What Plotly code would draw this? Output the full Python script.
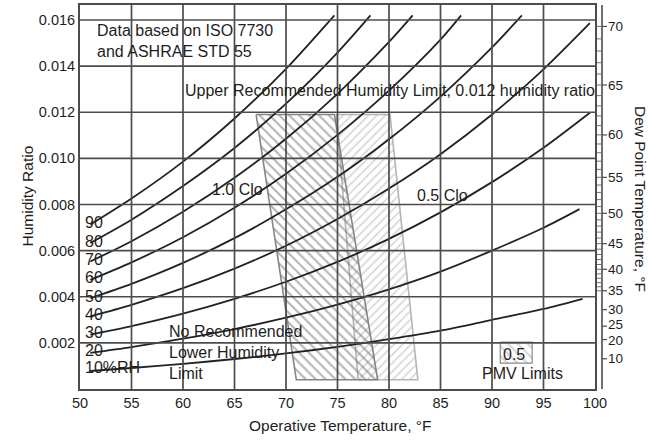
import math
import plotly.graph_objects as go

# ---- relative humidity curves: humidity ratio read along operative temperature (°F) ----
temp_grid = [51, 55, 60, 65, 70, 75, 80, 85, 90, 95]
rh_levels = [10, 20, 30, 40, 50, 60, 70, 80, 90]
rh_end_temp = [98.8, 98.5, 99.5, 99.5, 92.9, 87.0, 82.3, 78.2, 74.7]

rh_10 = [0.00078, 0.00091, 0.00109, 0.00130, 0.00154, 0.00183, 0.00216, 0.00253, 0.00300, 0.00347, 0.00391]
rh_20 = [0.00157, 0.00182, 0.00218, 0.00260, 0.00309, 0.00366, 0.00432, 0.00509, 0.00600, 0.00699, 0.00780]
rh_30 = [0.00236, 0.00273, 0.00327, 0.00391, 0.00465, 0.00551, 0.00651, 0.00766, 0.00897, 0.01046, 0.01198]
rh_40 = [0.00315, 0.00365, 0.00437, 0.00522, 0.00621, 0.00737, 0.00869, 0.01018, 0.01190, 0.01386, 0.01586]
rh_50 = [0.00394, 0.00456, 0.00547, 0.00654, 0.00779, 0.00920, 0.01083, 0.01268, 0.01481, 0.01620]
rh_60 = [0.00473, 0.00549, 0.00658, 0.00786, 0.00933, 0.01102, 0.01294, 0.01515, 0.01620]
rh_70 = [0.00553, 0.00641, 0.00769, 0.00916, 0.01085, 0.01280, 0.01505, 0.01620]
rh_80 = [0.00633, 0.00734, 0.00880, 0.01045, 0.01237, 0.01459, 0.01620]
rh_90 = [0.00713, 0.00826, 0.00986, 0.01173, 0.01388, 0.01620]
rh_curves = [rh_10, rh_20, rh_30, rh_40, rh_50, rh_60, rh_70, rh_80, rh_90]
rh_labels = ["10%RH", "20", "30", "40", "50", "60", "70", "80", "90"]

# ---- comfort zones (corner points: top-left, top-right, bottom-right, bottom-left) ----
clo10_temp = [67.1, 74.7, 78.9, 71.0]
clo10_ratio = [0.0119, 0.0119, 0.0004, 0.0004]
clo05_temp = [74.9, 80.1, 82.8, 77.0]
clo05_ratio = [0.0119, 0.0119, 0.0004, 0.0004]

# ---- axes ----
x_ticks = [50, 55, 60, 65, 70, 75, 80, 85, 90, 95, 100]
y_ticks = [0.002, 0.004, 0.006, 0.008, 0.010, 0.012, 0.014, 0.016]
y_tick_text = ["0.002", "0.004", "0.006", "0.008", "0.010", "0.012", "0.014", "0.016"]
dew_point_labels = [10, 20, 25, 30, 35, 40, 45, 50, 55, 60, 65, 70]
dew_point_minor = list(range(35, 71))

X_MIN, X_MAX = 50, 100
Y_MAX = 0.01665
PAPER_W = 522
X_DOMAIN_END = 515 / PAPER_W


def dew_point_to_ratio(tdp_f):
    """Humidity ratio at sea level for a given dew point (°F), Magnus form."""
    t = (tdp_f - 32) / 1.8
    if t >= 0:
        es = 6.112 * math.exp(17.62 * t / (243.12 + t))
    else:
        es = 6.112 * math.exp(22.46 * t / (272.62 + t))
    return 0.622 * es / (1013.25 - es)


FONT = "Liberation Sans, Arial, sans-serif"
TXT = "#1e1e1e"
GRID = "#4c4c4c"

fig = go.Figure()

# comfort zones with hatching
fig.add_trace(go.Scatter(
    x=clo05_temp + clo05_temp[:1], y=clo05_ratio + clo05_ratio[:1],
    mode="lines", fill="toself", fillcolor="rgba(0,0,0,0)",
    fillpattern=dict(shape="/", fgcolor="#a8a8a8", bgcolor="rgba(0,0,0,0)", size=6, solidity=0.25),
    line=dict(color="#b5b5b5", width=1.6), hoverinfo="skip", showlegend=False,
))
fig.add_trace(go.Scatter(
    x=clo10_temp + clo10_temp[:1], y=clo10_ratio + clo10_ratio[:1],
    mode="lines", fill="toself", fillcolor="rgba(0,0,0,0)",
    fillpattern=dict(shape="\\", fgcolor="#666666", bgcolor="rgba(0,0,0,0)", size=7, solidity=0.28),
    line=dict(color="#858585", width=1.6), hoverinfo="skip", showlegend=False,
))

text_font = dict(family=FONT, size=16, color=TXT)

# relative humidity curves
for level, end_t, ratios, label in zip(rh_levels, rh_end_temp, rh_curves, rh_labels):
    temps = temp_grid[:len(ratios) - 1] + [end_t]
    fig.add_trace(go.Scatter(
        x=temps, y=ratios, mode="lines",
        line=dict(color="#222222", width=1.8, shape="spline", smoothing=0.8),
        name=f"{level}% RH", hoverinfo="skip", showlegend=False,
    ))
    if level == 10:
        fig.add_annotation(x=53.2, y=ratios[0], text=label, showarrow=False, yshift=4, font=text_font)
    else:
        fig.add_annotation(x=51.35, y=ratios[0], text=label, showarrow=False, yshift=2, font=text_font)

# PMV legend key
fig.add_trace(go.Scatter(
    x=[90.8, 93.9, 93.9, 90.8, 90.8], y=[0.00203, 0.00203, 0.00112, 0.00112, 0.00203],
    mode="lines", fill="toself", fillcolor="rgba(0,0,0,0)",
    fillpattern=dict(shape="\\", fgcolor="#a8a8a8", bgcolor="rgba(0,0,0,0)", size=7, solidity=0.3),
    line=dict(color="#8a8a8a", width=1.2), hoverinfo="skip", showlegend=False,
))

# chart grid lines
for xv in x_ticks[1:-1]:
    fig.add_shape(type="line", x0=xv, x1=xv, y0=0, y1=Y_MAX, xref="x", yref="y",
                  line=dict(color=GRID, width=1.7), layer="above")
for yv in y_ticks:
    fig.add_shape(type="line", x0=X_MIN, x1=X_MAX, y0=yv, y1=yv, xref="x", yref="y",
                  line=dict(color=GRID, width=1.7), layer="above")

fig.add_annotation(x=51.5, y=0.01600, text="Data based on ISO 7730<br>and ASHRAE STD 55",
                   showarrow=False, xanchor="left", yanchor="top", align="left", font=text_font)
fig.add_annotation(x=80.1, y=0.01294, text="Upper Recommended Humidity Limit, 0.012 humidity ratio",
                   showarrow=False, font=text_font)
fig.add_annotation(x=65.3, y=0.00867, text="1.0 Clo", showarrow=False, font=text_font)
fig.add_annotation(x=85.2, y=0.00837, text="0.5 Clo", showarrow=False, font=text_font)
fig.add_annotation(x=58.4, y=0.00296, text="No Recommended<br>Lower Humidity<br>Limit",
                   showarrow=False, xanchor="left", yanchor="top", align="left", font=text_font)
fig.add_annotation(x=92.1, y=0.00148, text="0.5", showarrow=False, font=text_font)
fig.add_annotation(x=93.0, y=0.00068, text="PMV Limits", showarrow=False, font=text_font)

# axis titles
title_font = dict(family=FONT, size=15.5, color=TXT)
fig.add_annotation(xref="paper", yref="paper", x=-0.1207, y=0.5026, text="Humidity Ratio",
                   textangle=-90, showarrow=False, font=title_font)
fig.add_annotation(xref="paper", yref="paper", x=1.093, y=0.4948, text="Dew Point Temperature, °F",
                   textangle=90, showarrow=False, font=title_font)
fig.add_annotation(xref="paper", yref="paper", x=0.4993, y=-0.1218, text="Operative Temperature, °F",
                   showarrow=False, font=title_font)

# dew point scale on the right: axis line, minor ticks (inward), major ticks and labels
fig.add_shape(type="line", x0=1.0, x1=1.0, y0=0, y1=Y_MAX, xref="paper", yref="y",
              line=dict(color=GRID, width=1.6))
for d in dew_point_minor:
    w = dew_point_to_ratio(d)
    fig.add_shape(type="line", x0=1.0 - 5 / PAPER_W, x1=1.0, y0=w, y1=w, xref="paper", yref="y",
                  line=dict(color="#707070", width=1))
label_nudge = {25: 2, 20: -1}
for d in dew_point_labels:
    w = dew_point_to_ratio(d)
    fig.add_shape(type="line", x0=1.0, x1=1.0 + 5 / PAPER_W, y0=w, y1=w, xref="paper", yref="y",
                  line=dict(color=GRID, width=1.2))
    fig.add_annotation(x=1.0, y=w, xref="paper", yref="y", text=str(d), showarrow=False,
                       xanchor="left", xshift=4, yshift=label_nudge.get(d, 0),
                       font=dict(family=FONT, size=13.5, color=TXT))

fig.update_layout(
    width=653, height=448,
    margin=dict(l=80, r=51, t=3, b=59),
    plot_bgcolor="white", paper_bgcolor="white",
    font=dict(family=FONT, size=14.5, color=TXT),
    xaxis=dict(
        range=[X_MIN, X_MAX], domain=[0, X_DOMAIN_END], tickvals=x_ticks,
        showgrid=False, showline=True, mirror=True, linecolor=GRID, linewidth=2,
        ticks="", zeroline=False, tickfont=dict(size=14.5, color=TXT),
    ),
    yaxis=dict(
        range=[0, Y_MAX], tickvals=y_ticks, ticktext=y_tick_text,
        showgrid=False, showline=True, mirror=True, linecolor=GRID, linewidth=2,
        ticks="", zeroline=False, tickfont=dict(size=14.5, color=TXT),
    ),
)

fig.write_html("out.html")
